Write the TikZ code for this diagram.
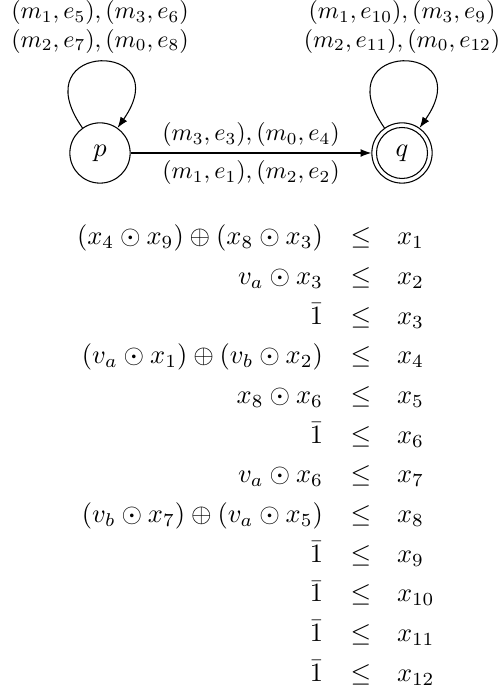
\documentclass[tikz,border=0pt]{standalone}
\usetikzlibrary{arrows.meta}
\begin{document}
\begin{tikzpicture}[x=0.3783pt, y=0.3783pt,
  >={Latex[length=4.1pt,width=3pt]},
  st/.style={circle, draw, minimum size=22.8pt, inner sep=0pt},
  lbl/.style={align=center, scale=0.91},
  eqcell/.style={inner sep=0pt}]
\useasboundingbox (0,0) rectangle (501,695);
\node[st] (p) at (100,542) {$p$};
\node[st] (q) at (402,542) {$q$};
\draw (q.center) circle[radius=25.5];
\draw[->] (p) -- (q)
  node[midway, above, scale=0.91, inner sep=2.5pt] {$(m_3,e_3),(m_0,e_4)$}
  node[midway, below, scale=0.91, inner sep=3pt] {$(m_1,e_1),(m_2,e_2)$};
\draw[->] (p.125) .. controls +(125:107.5) and +(55:107.5) .. (p.55)
  node[midway, above, lbl] {$(m_1,e_5),(m_3,e_6)$\\$(m_2,e_7),(m_0,e_8)$};
\draw[->] (q.125) .. controls +(125:107.5) and +(55:107.5) .. (q.55)
  node[midway, above, lbl] {$(m_1,e_{10}),(m_3,e_9)$\\$(m_2,e_{11}),(m_0,e_{12})$};
\foreach \i/\lhs/\rhs in {
  1/{(x_4\odot x_9)\oplus(x_8\odot x_3)}/{x_1},
  2/{v_a\odot x_3}/{x_2},
  3/{\bar{1}}/{x_3},
  4/{(v_a\odot x_1)\oplus(v_b\odot x_2)}/{x_4},
  5/{x_8\odot x_6}/{x_5},
  6/{\bar{1}}/{x_6},
  7/{v_a\odot x_6}/{x_7},
  8/{(v_b\odot x_7)\oplus(v_a\odot x_5)}/{x_8},
  9/{\bar{1}}/{x_9},
  10/{\bar{1}}/{x_{10}},
  11/{\bar{1}}/{x_{11}},
  12/{\bar{1}}/{x_{12}}}{
  \node[eqcell, anchor=base east] (l\i) at (323.5, {450-(\i-1)*39.64}) {$\lhs$};
  \node[eqcell, anchor=base] (m\i) at (360.8, {450-(\i-1)*39.64}) {$\leq$};
  \node[eqcell, anchor=base west] (r\i) at (396.5, {450-(\i-1)*39.64}) {$\rhs$};
}
\end{tikzpicture}
\end{document}
